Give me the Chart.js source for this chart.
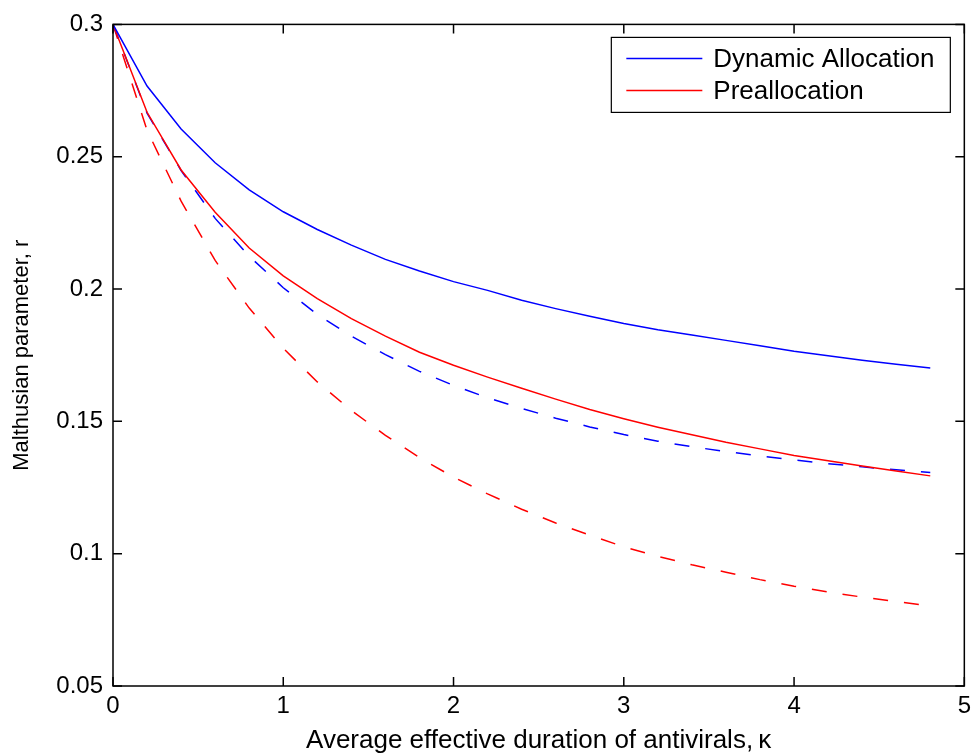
<!DOCTYPE html>
<html>
<head>
<meta charset="utf-8">
<script src="https://cdn.jsdelivr.net/npm/chart.js@4"></script>
<style>
  html, body { margin: 0; padding: 0; background: #fff; }
  #grafico { display: block; }
</style>
</head>
<body>
<canvas id="grafico" width="977" height="756"></canvas>
<script>
// kappa values (x) and the four curves
const kappa = [0, 0.2, 0.4, 0.6, 0.8, 1.0, 1.2, 1.4, 1.6, 1.8, 2.0, 2.2, 2.4,
               2.6, 2.8, 3.0, 3.2, 3.4, 3.6, 3.8, 4.0, 4.2, 4.4, 4.6, 4.8];

const dinamicaSolida = [0.300, 0.2767, 0.2605, 0.2477, 0.2375, 0.2292, 0.2225, 0.2166, 0.2112,
                        0.2068, 0.2028, 0.1995, 0.1958, 0.1926, 0.1897, 0.1870, 0.1846, 0.1826,
                        0.1806, 0.1786, 0.1765, 0.1748, 0.1731, 0.1716, 0.1702];
const dinamicaPunteada = [0.300, 0.2665, 0.2448, 0.2267, 0.2124, 0.2005, 0.1904, 0.1822, 0.1752,
                          0.1689, 0.1636, 0.1589, 0.1549, 0.1512, 0.1479, 0.1450, 0.1425, 0.1404,
                          0.1386, 0.1369, 0.1354, 0.1340, 0.1328, 0.1317, 0.1307];
const preSolida = [0.300, 0.2668, 0.2450, 0.2290, 0.2155, 0.2050, 0.1964, 0.1888, 0.1822,
                   0.1761, 0.1712, 0.1667, 0.1625, 0.1584, 0.1545, 0.1510, 0.1478, 0.1449,
                   0.1421, 0.1396, 0.1371, 0.1351, 0.1331, 0.1312, 0.1294];
const prePunteada = [0.300, 0.2600, 0.2332, 0.2108, 0.1928, 0.1776, 0.1649, 0.1541, 0.1447,
                     0.1363, 0.1289, 0.1226, 0.1168, 0.1116, 0.1070, 0.1026, 0.0990, 0.0958,
                     0.0930, 0.0902, 0.0877, 0.0855, 0.0836, 0.0819, 0.0803];

const etiquetas = ['Dynamic Allocation', 'Preallocation'];
const xTickLabels = ['0', '1', '2', '3', '4', '5'];
const yTickLabels = ['0.05', '0.1', '0.15', '0.2', '0.25', '0.3'];
const tituloX = 'Average effective duration of antivirals,\u2009\u03ba';
const tituloY = 'Malthusian parameter, r';

const FUENTE = '"Liberation Sans", Arial, Helvetica, sans-serif';
const AZUL = '#0000ff';
const ROJO = '#ff0000';
const TICK = 9;

function puntos(valores) {
  return kappa.map((k, i) => ({ x: k, y: valores[i] }));
}

// box around the axes, inward ticks on all four sides, legend inside top-right
const marcoYLeyenda = {
  id: 'marcoYLeyenda',
  afterDatasetsDraw(chart) {
    const ctx = chart.ctx;
    const a = chart.chartArea;
    const sx = chart.scales.x, sy = chart.scales.y;
    ctx.save();
    ctx.strokeStyle = '#000';
    ctx.lineWidth = 1.5;
    ctx.strokeRect(a.left, a.top, a.right - a.left, a.bottom - a.top);
    ctx.beginPath();
    sx.ticks.forEach(t => {
      const px = sx.getPixelForValue(t.value);
      ctx.moveTo(px, a.bottom); ctx.lineTo(px, a.bottom - TICK);
      ctx.moveTo(px, a.top); ctx.lineTo(px, a.top + TICK);
    });
    sy.ticks.forEach(t => {
      const py = sy.getPixelForValue(t.value);
      ctx.moveTo(a.left, py); ctx.lineTo(a.left + TICK, py);
      ctx.moveTo(a.right, py); ctx.lineTo(a.right - TICK, py);
    });
    ctx.stroke();

    // legend
    const bw = 339, bh = 75;
    const bx = a.right - 14 - bw, by = a.top + 13;
    ctx.fillStyle = '#fff';
    ctx.fillRect(bx, by, bw, bh);
    ctx.lineWidth = 1.2;
    ctx.strokeRect(bx, by, bw, bh);
    const visibles = chart.data.datasets.filter(d => d.enLeyenda);
    visibles.forEach((d, i) => {
      const ly = by + 21 + i * 32;
      ctx.strokeStyle = d.borderColor;
      ctx.lineWidth = 1.5;
      ctx.beginPath();
      ctx.moveTo(bx + 15, ly); ctx.lineTo(bx + 91, ly);
      ctx.stroke();
      ctx.fillStyle = '#000';
      ctx.font = '26px ' + FUENTE;
      ctx.textBaseline = 'middle';
      ctx.textAlign = 'left';
      ctx.fillText(d.label, bx + 102, ly + 1);
    });
    ctx.restore();
  }
};

const conjuntos = [
  { label: etiquetas[0], data: puntos(dinamicaSolida), borderColor: AZUL, enLeyenda: true },
  { label: etiquetas[1], data: puntos(preSolida), borderColor: ROJO, enLeyenda: true },
  { label: etiquetas[0] + ' (dashed)', data: puntos(dinamicaPunteada), borderColor: AZUL, borderDash: [15, 16], enLeyenda: false },
  { label: etiquetas[1] + ' (dashed)', data: puntos(prePunteada), borderColor: ROJO, borderDash: [15, 16], enLeyenda: false }
].map(d => Object.assign({
  borderWidth: 1.5,
  pointRadius: 0,
  tension: 0,
  fill: false
}, d));

const ctx = document.getElementById('grafico');
new Chart(ctx, {
  type: 'line',
  data: { datasets: conjuntos },
  plugins: [marcoYLeyenda],
  options: {
    responsive: false,
    animation: false,
    layout: { padding: { left: 0, right: 12, top: 22, bottom: 0 } },
    plugins: {
      legend: { display: false },
      tooltip: { enabled: false }
    },
    scales: {
      x: {
        type: 'linear',
        min: 0,
        max: 5,
        afterFit: s => { s.height = 70; },
        grid: { display: false, drawTicks: false },
        border: { display: false },
        ticks: {
          stepSize: 1,
          padding: 6,
          color: '#000',
          font: { family: FUENTE, size: 24 },
          callback: (v, i) => xTickLabels[i] !== undefined ? xTickLabels[i] : v
        },
        title: {
          display: true,
          text: tituloX,
          color: '#000',
          font: { family: FUENTE, size: 26 },
          padding: { top: 0, bottom: 0 }
        }
      },
      y: {
        type: 'linear',
        min: 0.05,
        max: 0.3,
        afterFit: s => { s.width = 113; },
        grid: { display: false, drawTicks: false },
        border: { display: false },
        ticks: {
          stepSize: 0.05,
          padding: 10,
          color: '#000',
          font: { family: FUENTE, size: 24 },
          callback: (v, i) => yTickLabels[i] !== undefined ? yTickLabels[i] : v
        },
        title: {
          display: true,
          text: tituloY,
          color: '#000',
          font: { family: FUENTE, size: 22 },
          padding: { top: 9, bottom: 0 }
        }
      }
    }
  }
});
</script>
</body>
</html>
